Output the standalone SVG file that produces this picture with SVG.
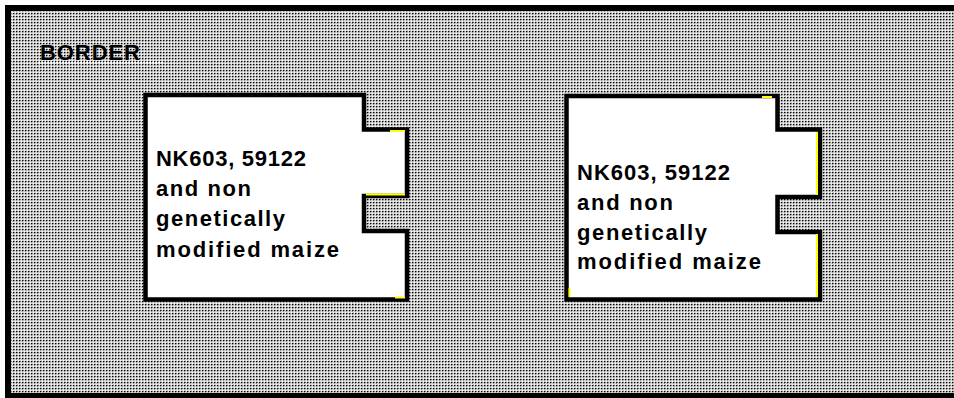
<svg xmlns="http://www.w3.org/2000/svg" width="954" height="398" viewBox="0 0 954 398">
  <defs>
    <pattern id="dots" x="0" y="0" width="3" height="3" patternUnits="userSpaceOnUse">
      <rect width="3" height="3" fill="#d2d2d2"/>
      <rect x="0" y="0" width="1" height="1" fill="#ffffff"/>
      <rect x="1" y="1" width="1" height="1" fill="#000000"/>
      <rect x="2" y="1" width="1" height="1" fill="#7a7a7a"/>
      <rect x="1" y="2" width="1" height="1" fill="#9a9a9a"/>
    </pattern>
    <style>
      .box { fill: #ffffff; stroke: #000000; stroke-width: 4.5; stroke-linejoin: miter; }
      .lbl { font-family: "Liberation Sans", Arial, sans-serif; font-weight: bold; font-size: 22px; fill: #000000; }
      .hl { stroke: #ffff00; stroke-width: 2; fill: none; }
    </style>
  </defs>

  <rect x="0" y="0" width="954" height="398" fill="#ffffff"/>
  <g id="field">
    <rect x="5" y="5" width="949" height="393" fill="#000000"/>
    <rect x="11" y="11" width="943" height="382" fill="url(#dots)"/>
    <line x1="38" y1="62.5" x2="163" y2="62.5" stroke="#ffffff" stroke-width="1.5" stroke-dasharray="2 1"/>
    <text x="40" y="60" class="lbl" font-size="23" fill="#222222" textLength="100" lengthAdjust="spacing">BORDER</text>
  </g>

  <g id="plot1">
    <path class="box" d="M145.5,95 H364 V129.5 H407 V196 H364 V231 H407 V299.5 H145.5 Z"/>
    <line class="hl" x1="366" y1="194.5" x2="405" y2="194.5"/>
    <line class="hl" x1="390" y1="131" x2="405" y2="131"/>
    <line class="hl" x1="395" y1="297.5" x2="405" y2="297.5"/>
    <text class="lbl" x="156" y="166" textLength="150" lengthAdjust="spacing">NK603, 59122</text>
    <text class="lbl" x="156" y="196" textLength="95" lengthAdjust="spacing">and non</text>
    <text class="lbl" x="156" y="226" textLength="129" lengthAdjust="spacing">genetically</text>
    <text class="lbl" x="156" y="256.5" textLength="183" lengthAdjust="spacing">modified maize</text>
  </g>

  <g id="plot2">
    <path class="box" d="M566.5,96 H777.5 V129.5 H820 V197 H777.5 V232 H820 V299.5 H566.5 Z"/>
    <line class="hl" x1="817" y1="132" x2="817" y2="195"/>
    <line class="hl" x1="817" y1="234" x2="817" y2="297"/>
    <line class="hl" x1="762" y1="97" x2="772" y2="97"/>
    <line class="hl" x1="569.5" y1="288" x2="569.5" y2="297"/>
    <text class="lbl" x="577" y="180" textLength="153" lengthAdjust="spacing">NK603, 59122</text>
    <text class="lbl" x="577" y="210" textLength="96" lengthAdjust="spacing">and non</text>
    <text class="lbl" x="577" y="239.5" textLength="130" lengthAdjust="spacing">genetically</text>
    <text class="lbl" x="577" y="269" textLength="184" lengthAdjust="spacing">modified maize</text>
  </g>

  <g id="connectors"></g>
</svg>
